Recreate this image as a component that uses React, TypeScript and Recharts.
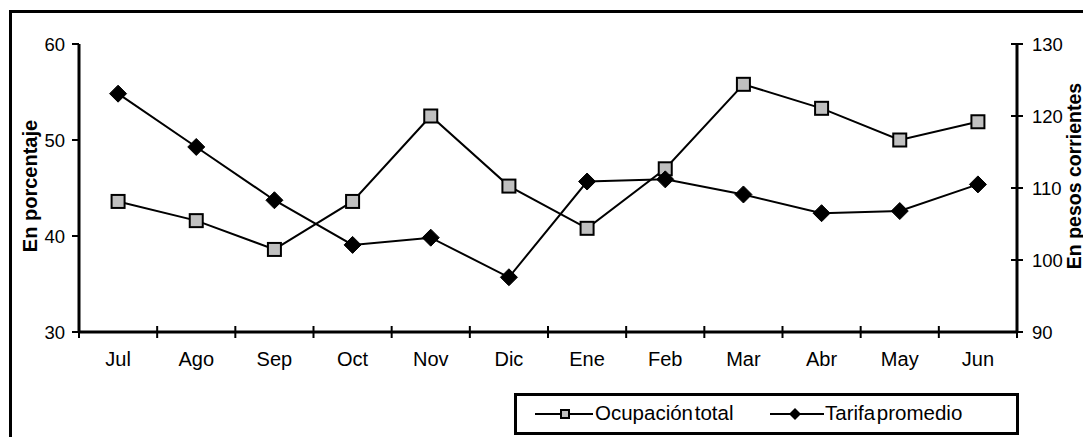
import React from 'react';
import { LineChart, Line, XAxis, YAxis, Legend } from 'recharts';

// ── datos ─────────────────────────────────────────────────────────────
const meses = ['Jul', 'Ago', 'Sep', 'Oct', 'Nov', 'Dic', 'Ene', 'Feb', 'Mar', 'Abr', 'May', 'Jun'];
const ocupacionTotal = [43.6, 41.6, 38.6, 43.6, 52.5, 45.2, 40.8, 47.0, 55.8, 53.3, 50.0, 51.9];
const tarifaPromedio = [123.1, 115.7, 108.3, 102.1, 103.1, 97.6, 110.9, 111.2, 109.1, 106.5, 106.8, 110.5];
const ticksIzq = [30, 40, 50, 60];
const ticksDer = [90, 100, 110, 120, 130];
const nombreOcupacion = 'Ocupación total';
const nombreTarifa = 'Tarifa promedio';

const data = meses.map((mes, i) => ({
  mes,
  ocupacion: ocupacionTotal[i],
  tarifa: tarifaPromedio[i],
}));

const FONT = '"Liberation Sans", Arial, Helvetica, sans-serif';
const W = 1091;
const H = 445;
const M = { top: 44, right: 0, bottom: 83, left: 0 };
const LEFT_W = 79;
const RIGHT_W = 74;
const PLOT_W = W - LEFT_W - RIGHT_W;
const BAND = PLOT_W / meses.length;
const EJE = { stroke: '#000', strokeWidth: 3 };

// ── marcadores ────────────────────────────────────────────────────────
const Cuadrado = (props: any) => {
  const { cx, cy } = props;
  if (cx == null || cy == null) return null;
  return <rect x={cx - 6.5} y={cy - 6.5} width={13} height={13} fill="#c0c0c0" stroke="#000" strokeWidth={2} />;
};

const Rombo = (props: any) => {
  const { cx, cy } = props;
  if (cx == null || cy == null) return null;
  const r = 8.5;
  return <polygon points={`${cx},${cy - r} ${cx + r},${cy} ${cx},${cy + r} ${cx - r},${cy}`} fill="#000" stroke="#000" strokeWidth={1} />;
};

// ── ticks ─────────────────────────────────────────────────────────────
const TickMes = (props: any) => {
  const { x, y, payload, index } = props;
  return (
    <g>
      <line x1={x - BAND / 2} x2={x - BAND / 2} y1={y - 6} y2={y + 6} stroke="#000" strokeWidth={2} />
      {index === meses.length - 1 && (
        <line x1={x + BAND / 2} x2={x + BAND / 2} y1={y - 6} y2={y + 6} stroke="#000" strokeWidth={2} />
      )}
      <text x={x} y={y + 34} textAnchor="middle" fontSize={20} fontFamily={FONT} fill="#000">
        {payload.value}
      </text>
    </g>
  );
};

const TickDer = (props: any) => {
  const { x, y, payload } = props;
  return (
    <g>
      <line x1={x - 6} x2={x + 6} y1={y} y2={y} stroke="#000" strokeWidth={2} />
      <text x={x + 15} y={y} dy="0.36em" textAnchor="start" fontSize={18.5} fontFamily={FONT} fill="#000">
        {payload.value}
      </text>
    </g>
  );
};

// ── leyenda ───────────────────────────────────────────────────────────
const Leyenda = () => (
  <div
    style={{
      position: 'relative',
      width: 505,
      height: 42,
      border: '3px solid #000',
      boxSizing: 'border-box',
      background: '#fff',
      fontFamily: FONT,
      fontSize: 20.5,
      color: '#000',
    }}
  >
    <svg width={505} height={42} style={{ position: 'absolute', left: -3, top: -3 }}>
      <line x1={21} x2={79} y1={21} y2={21} stroke="#000" strokeWidth={2} />
      <rect x={47} y={17} width={8} height={8} fill="#c0c0c0" stroke="#000" strokeWidth={2} />
      <line x1={256} x2={310} y1={21} y2={21} stroke="#000" strokeWidth={2} />
      <polygon points="281,15 287,21 281,27 275,21" fill="#000" />
    </svg>
    <span style={{ position: 'absolute', left: 78, top: 5, whiteSpace: 'nowrap', wordSpacing: -4 }}>{nombreOcupacion}</span>
    <span style={{ position: 'absolute', left: 308, top: 5, whiteSpace: 'nowrap', wordSpacing: -4 }}>{nombreTarifa}</span>
  </div>
);

export default function App() {
  return (
    <div style={{ position: 'relative', width: W, height: H, margin: -8, overflow: 'hidden', background: '#fff' }}>
      <div
        style={{
          position: 'absolute',
          left: 9,
          top: 10,
          width: 1200,
          height: 600,
          border: '3px solid #000',
          boxSizing: 'border-box',
        }}
      />
      <div style={{ position: 'absolute', left: 0, top: 0 }}>
        <LineChart width={W} height={H} data={data} margin={M}>
          <XAxis
            dataKey="mes"
            xAxisId="bottom"
            padding={{ left: BAND / 2, right: BAND / 2 }}
            axisLine={EJE}
            tickLine={false}
            tickSize={0}
            tickMargin={0}
            height={30}
            interval={0}
            tick={<TickMes />}
          />
          <XAxis
            dataKey="mes"
            xAxisId="top"
            orientation="top"
            padding={{ left: BAND / 2, right: BAND / 2 }}
            axisLine={EJE}
            tick={false}
            tickLine={false}
            height={0}
          />
          <YAxis
            yAxisId="left"
            domain={[30, 60]}
            ticks={ticksIzq}
            width={LEFT_W}
            axisLine={EJE}
            tickLine={{ stroke: '#000', strokeWidth: 2 }}
            tickSize={7}
            tickMargin={7}
            tick={{ fontSize: 18.5, fontFamily: FONT, fill: '#000' }}
            label={{
              content: (p: any) => {
                const vb = p.viewBox || { x: 0, y: 44, height: 288 };
                const cx = vb.x + 30;
                const cy = vb.y + vb.height / 2 - 2;
                return (
                  <text x={cx} y={cy} transform={`rotate(-90 ${cx} ${cy})`} textAnchor="middle" dy="0.36em" fontSize={20} fontWeight="bold" fontFamily={FONT} fill="#000">
                    En porcentaje
                  </text>
                );
              },
            }}
          />
          <YAxis
            yAxisId="right"
            orientation="right"
            domain={[90, 130]}
            ticks={ticksDer}
            width={RIGHT_W}
            axisLine={EJE}
            tickLine={false}
            tickSize={0}
            tickMargin={0}
            tick={<TickDer />}
            label={{
              content: (p: any) => {
                const vb = p.viewBox || { x: 1017, y: 44, height: 288 };
                const cx = vb.x + 57;
                const cy = vb.y + vb.height / 2 - 12;
                return (
                  <text x={cx} y={cy} transform={`rotate(-90 ${cx} ${cy})`} textAnchor="middle" dy="0.36em" fontSize={19.5} fontWeight="bold" fontFamily={FONT} fill="#000">
                    En pesos corrientes
                  </text>
                );
              },
            }}
          />
          <Legend
            layout="horizontal"
            verticalAlign="middle"
            align="center"
            content={<Leyenda />}
            wrapperStyle={{ left: 514, top: 393, width: 505, height: 42 }}
          />
          <Line
            yAxisId="left"
            xAxisId="bottom"
            type="linear"
            dataKey="ocupacion"
            name={nombreOcupacion}
            stroke="#000"
            strokeWidth={2}
            dot={<Cuadrado />}
            activeDot={false}
            isAnimationActive={false}
          />
          <Line
            yAxisId="right"
            xAxisId="bottom"
            type="linear"
            dataKey="tarifa"
            name={nombreTarifa}
            stroke="#000"
            strokeWidth={2}
            dot={<Rombo />}
            activeDot={false}
            isAnimationActive={false}
          />
        </LineChart>
      </div>
    </div>
  );
}
